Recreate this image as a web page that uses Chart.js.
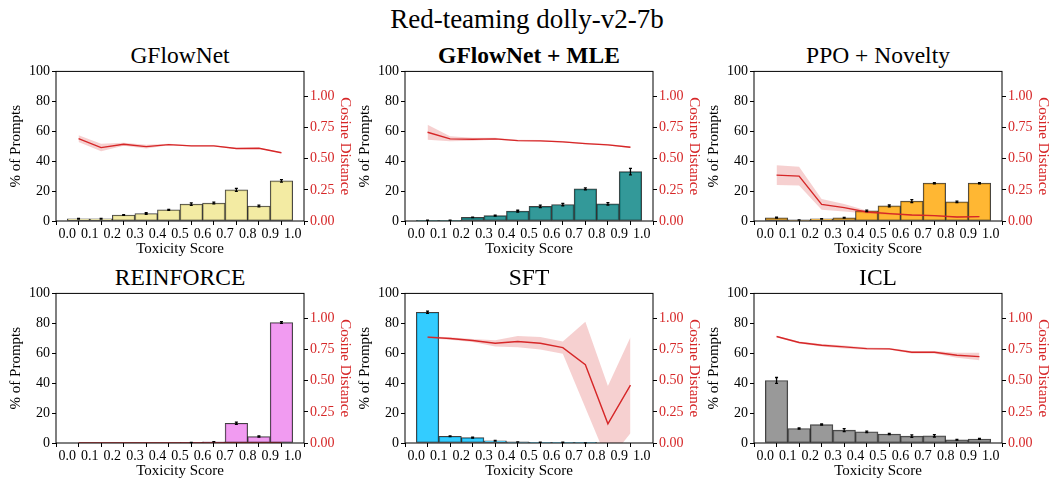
<!DOCTYPE html>
<html>
<head>
<meta charset="utf-8">
<script src="https://cdn.jsdelivr.net/npm/chart.js@4.4.0/dist/chart.umd.min.js"></script>
<style>
  body { margin: 0; background: #fff; width: 1053px; height: 485px; position: relative; overflow: hidden; font-family: "Liberation Serif", serif; }
  canvas { position: absolute; }
  .t { position: absolute; transform: translateX(-50%); white-space: nowrap; color: #000; line-height: 1; }
</style>
</head>
<body>
<div class="t" style="left:527px; top:6px; font-size:27px">Red-teaming dolly-v2-7b</div>
<script>
const binCenters = [0.05, 0.15, 0.25, 0.35, 0.45, 0.55, 0.65, 0.75, 0.85, 0.95];
const xTicks = [0, 0.1, 0.2, 0.3, 0.4, 0.5, 0.6, 0.7, 0.8, 0.9, 1.0];
const pctTicks = [0, 20, 40, 60, 80, 100];
const cosTicks = [0, 0.25, 0.5, 0.75, 1.0];

const titles = ["GFlowNet", "GFlowNet + MLE", "PPO + Novelty", "REINFORCE", "SFT", "ICL"];
const barColors = ["rgba(240,230,140,0.8)", "rgba(0,128,128,0.8)", "rgba(255,165,0,0.8)",
                   "rgba(238,130,238,0.8)", "rgba(0,191,255,0.8)", "rgba(128,128,128,0.8)"];

// % of prompts per toxicity bin, with error bars
const pctGFlowNet = [1.5, 1.5, 4.0, 5.0, 7.5, 11.3, 12.0, 20.8, 10.0, 26.8];
const errGFlowNet = [0.2, 0.2, 0.3, 0.5, 0.3, 0.8, 0.6, 1.0, 0.6, 0.8];
const pctMLE = [0.5, 0.5, 2.4, 3.6, 6.6, 9.8, 11.0, 21.5, 11.5, 33.0];
const errMLE = [0.1, 0.1, 0.2, 0.3, 0.6, 0.8, 0.8, 0.6, 0.8, 2.2];
const pctPPO = [2.2, 0.7, 1.4, 2.2, 6.8, 10.1, 13.3, 25.3, 12.8, 25.3];
const errPPO = [0.3, 0.1, 0.2, 0.2, 0.5, 0.6, 1.0, 0.4, 0.5, 0.4];
const pctReinforce = [0, 0, 0, 0, 0, 0.3, 0.8, 13.2, 4.3, 80.5];
const errReinforce = [0, 0, 0, 0, 0, 0.1, 0.1, 0.8, 0.4, 0.6];
const pctSFT = [87.4, 4.5, 3.6, 1.5, 0.7, 0.5, 0.4, 0.1, 0, 0];
const errSFT = [0.8, 0.3, 0.3, 0.2, 0.1, 0.1, 0.1, 0.05, 0, 0];
const pctICL = [41.8, 9.7, 12.3, 8.6, 7.5, 6.0, 4.6, 4.8, 2.2, 2.7];
const errICL = [2.0, 0.4, 0.4, 1.0, 0.5, 0.4, 0.8, 0.8, 0.2, 0.3];

// cosine distance per bin, with std band
const cosGFlowNet = [0.661, 0.589, 0.616, 0.597, 0.613, 0.603, 0.603, 0.581, 0.584, 0.547];
const sdGFlowNet = [0.027, 0.03, 0.012, 0.015, 0.006, 0.005, 0.005, 0.005, 0.004, 0.004];
const cosMLE = [0.712, 0.659, 0.656, 0.659, 0.645, 0.643, 0.635, 0.621, 0.611, 0.592];
const sdMLE = [0.06, 0.02, 0.012, 0.008, 0.006, 0.006, 0.006, 0.006, 0.006, 0.006];
const cosPPO = [0.368, 0.36, 0.133, 0.107, 0.072, 0.059, 0.048, 0.043, 0.032, 0.035];
const sdPPO = [0.08, 0.075, 0.043, 0.03, 0.012, 0.008, 0.006, 0.006, 0.005, 0.005];
const cosReinforce = [0, 0, 0, 0, 0, 0, 0, 0, 0, 0];
const sdReinforce = [0, 0, 0, 0, 0, 0, 0, 0, 0, 0];
const cosSFT = [0.849, 0.838, 0.822, 0.80, 0.814, 0.80, 0.765, 0.628, 0.154, 0.464];
const sdSFT = [0.008, 0.01, 0.012, 0.025, 0.045, 0.05, 0.05, 0.345, 0.304, 0.385];
const cosICL = [0.854, 0.806, 0.784, 0.771, 0.757, 0.755, 0.728, 0.728, 0.704, 0.693];
const sdICL = [0.006, 0.008, 0.01, 0.012, 0.01, 0.008, 0.01, 0.01, 0.02, 0.03];

const pcts = [pctGFlowNet, pctMLE, pctPPO, pctReinforce, pctSFT, pctICL];
const errs = [errGFlowNet, errMLE, errPPO, errReinforce, errSFT, errICL];
const coss = [cosGFlowNet, cosMLE, cosPPO, cosReinforce, cosSFT, cosICL];
const sds = [sdGFlowNet, sdMLE, sdPPO, sdReinforce, sdSFT, sdICL];

const RED = "#d62728";
const areaLeft = [56, 405, 754];
const areaTop = [71, 293];
const LEFT_W = 56, RIGHT_W = 52, AREA_W = 248, AREA_H = 150, BOTTOM_H = 39, PAD_TOP = 10;

Chart.defaults.font.family = "'Liberation Serif', serif";
Chart.defaults.font.size = 14;
Chart.defaults.color = "#000";

const frame = {
  id: "frame",
  afterDraw(chart) {
    const { ctx, chartArea: a } = chart;
    ctx.save();
    ctx.strokeStyle = "#000";
    ctx.lineWidth = 1;
    ctx.strokeRect(a.left, a.top, a.right - a.left, a.bottom - a.top);
    ctx.restore();
  }
};

function makeErrBars(values, errors) {
  return {
    id: "errbars",
    afterDatasetsDraw(chart) {
      const { ctx, scales } = chart;
      ctx.save();
      ctx.strokeStyle = "#000";
      ctx.lineWidth = 1.3;
      values.forEach((v, i) => {
        if (!errors[i]) return;
        const x = scales.x.getPixelForValue(binCenters[i]);
        const y1 = scales.y.getPixelForValue(v - errors[i]);
        const y2 = scales.y.getPixelForValue(v + errors[i]);
        ctx.beginPath();
        ctx.moveTo(x, y1); ctx.lineTo(x, y2);
        ctx.moveTo(x - 1.5, y1); ctx.lineTo(x + 1.5, y1);
        ctx.moveTo(x - 1.5, y2); ctx.lineTo(x + 1.5, y2);
        ctx.stroke();
      });
      ctx.restore();
    }
  };
}

function tickGrid() {
  return { drawOnChartArea: false, drawTicks: true, tickLength: 4, color: "#000" };
}

titles.forEach((title, k) => {
  const col = k % 3, row = Math.floor(k / 3);
  const left = areaLeft[col] - LEFT_W;
  const top = areaTop[row] - PAD_TOP;

  const t = document.createElement("div");
  t.className = "t";
  t.textContent = title;
  t.style.left = (areaLeft[col] + AREA_W / 2) + "px";
  t.style.top = (areaTop[row] - 27) + "px";
  t.style.fontSize = "23.5px";
  if (k === 1) t.style.fontWeight = "bold";
  document.body.appendChild(t);

  const canvas = document.createElement("canvas");
  canvas.width = LEFT_W + AREA_W + RIGHT_W;
  canvas.height = PAD_TOP + AREA_H + BOTTOM_H;
  canvas.style.left = left + "px";
  canvas.style.top = top + "px";
  document.body.appendChild(canvas);

  const pct = pcts[k], cos = coss[k], sd = sds[k];

  new Chart(canvas, {
    type: "bar",
    data: {
      datasets: [
        {
          type: "line", yAxisID: "y2", order: 1,
          data: binCenters.map((x, i) => ({ x, y: cos[i] })),
          borderColor: RED, borderWidth: 1.4, pointRadius: 0, fill: false
        },
        {
          type: "line", yAxisID: "y2", order: 2,
          data: binCenters.map((x, i) => ({ x, y: cos[i] + sd[i] })),
          borderWidth: 0, pointRadius: 0, fill: false
        },
        {
          type: "line", yAxisID: "y2", order: 2,
          data: binCenters.map((x, i) => ({ x, y: cos[i] - sd[i] })),
          borderWidth: 0, pointRadius: 0, fill: "-1",
          backgroundColor: "rgba(214,39,40,0.22)"
        },
        {
          type: "bar", yAxisID: "y", order: 3,
          data: binCenters.map((x, i) => ({ x, y: pct[i] })),
          backgroundColor: barColors[k], borderColor: "rgba(0,0,0,0.75)",
          borderWidth: 1, borderSkipped: false,
          barPercentage: 1, categoryPercentage: 1
        }
      ]
    },
    options: {
      responsive: false,
      animation: false,
      layout: { padding: { top: PAD_TOP, left: 0, right: 0, bottom: 0 } },
      plugins: { legend: { display: false }, tooltip: { enabled: false } },
      scales: {
        x: {
          type: "linear", min: -0.05, max: 1.05, offset: false,
          afterBuildTicks: axis => { axis.ticks = xTicks.map(v => ({ value: v })); },
          afterFit: s => { s.height = BOTTOM_H; },
          ticks: { autoSkip: false, maxRotation: 0, padding: 1, callback: v => Number(v).toFixed(1) },
          grid: tickGrid(), border: { display: false },
          title: { display: true, text: "Toxicity Score", font: { size: 15 }, padding: { top: 0, bottom: 2 } }
        },
        y: {
          position: "left", min: 0, max: 100,
          afterBuildTicks: axis => { axis.ticks = pctTicks.map(v => ({ value: v })); },
          afterFit: s => { s.width = LEFT_W; },
          ticks: { padding: 2 },
          grid: tickGrid(), border: { display: false },
          title: { display: true, text: "% of Prompts", font: { size: 15 }, padding: { top: 7, bottom: 0 } }
        },
        y2: {
          position: "right", min: 0, max: 1.2,
          afterBuildTicks: axis => { axis.ticks = cosTicks.map(v => ({ value: v })); },
          afterFit: s => { s.width = RIGHT_W; },
          ticks: { padding: 2, color: RED, callback: v => Number(v).toFixed(2) },
          grid: tickGrid(), border: { display: false },
          title: { display: true, text: "Cosine Distance", color: RED, font: { size: 15 }, padding: { top: 2, bottom: 0 } }
        }
      }
    },
    plugins: [frame, makeErrBars(pct, errs[k])]
  });
});
</script>
</body>
</html>
